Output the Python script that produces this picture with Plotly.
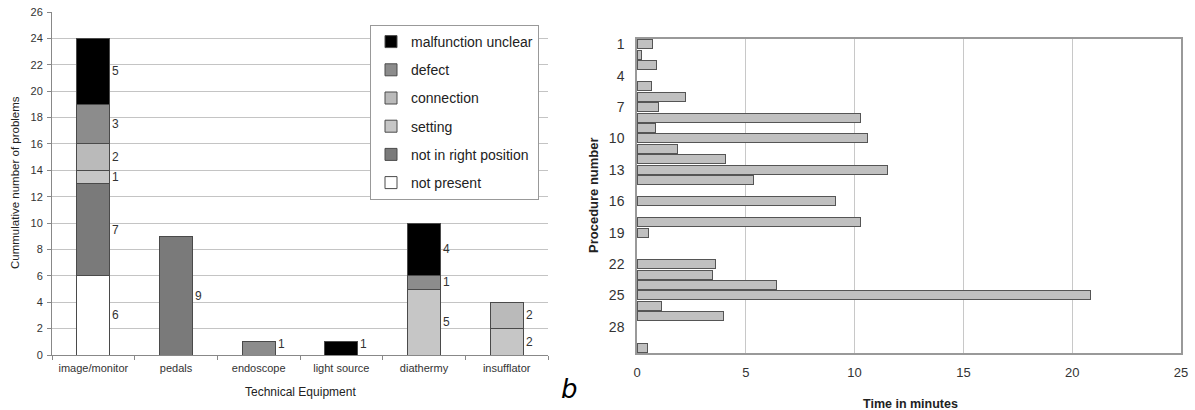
import plotly.graph_objects as go

# ---------------- data: left chart ----------------
categories = ["image/monitor", "pedals", "endoscope", "light source", "diathermy", "insufflator"]
series_names = ["not present", "not in right position", "setting", "connection", "defect", "malfunction unclear"]
not_present = [6, None, None, None, None, None]
not_in_right_position = [7, 9, None, None, None, None]
setting = [1, None, None, None, 5, 2]
connection = [2, None, None, None, None, 2]
defect = [3, None, 1, None, 1, None]
malfunction_unclear = [5, None, None, 1, 4, None]
left_y_ticks = list(range(0, 27, 2))

# ---------------- data: right chart ----------------
procedures = list(range(1, 31))
times_min = [0.73, 0.2, 0.9, None, 0.66, 2.23, 1.0, 10.29, 0.86, 10.6,
             1.85, 4.05, 11.5, 5.34, None, 9.14, None, 10.29, 0.54, None,
             None, 3.62, 3.46, 6.41, 20.84, 1.12, 3.98, None, None, 0.5]
proc_ticks = [1, 4, 7, 10, 13, 16, 19, 22, 25, 28]
time_ticks = [0, 5, 10, 15, 20, 25]

FONT = "Liberation Sans, Arial, sans-serif"
W, H = 1195, 410

series_values = [not_present, not_in_right_position, setting, connection, defect, malfunction_unclear]
series_colors = ["#ffffff", "#7a7a7a", "#c6c6c6", "#bababa", "#8c8c8c", "#000000"]

fig = go.Figure()
n_series = len(series_names)
for k, (name, vals, col) in enumerate(zip(series_names, series_values, series_colors)):
    fig.add_trace(go.Bar(
        x=categories, y=vals, name=name, legendgroup=name, legendrank=100 + (n_series - k),
        marker=dict(color=col, line=dict(color="#4a4a4a", width=1)),
        width=0.4, xaxis="x", yaxis="y", hoverinfo="skip"))

fig.add_trace(go.Bar(
    x=times_min, y=procedures, orientation="h", showlegend=False,
    marker=dict(color="#c0c0c0", line=dict(color="#555555", width=1)),
    width=0.86, xaxis="x2", yaxis="y2", hoverinfo="skip"))

# value labels beside segments
annotations = []
base = [0.0] * len(categories)
for vals in series_values:
    for i, v in enumerate(vals):
        if v is None:
            continue
        mid = base[i] + v / 2.0
        if v == 1 and base[i] == 0:
            mid = base[i] + 0.85
        annotations.append(dict(x=categories[i], y=mid, xref="x", yref="y",
                                text=str(v), showarrow=False, xanchor="left",
                                xshift=17, font=dict(family=FONT, size=12, color="#333333")))
        base[i] += v

def px_x(p):
    return p / W

def px_y(p):
    return 1 - p / H

def paper_text(text, x, y, size, family=FONT, angle=0, color="#222222"):
    return dict(text=text, x=px_x(x), y=px_y(y), xref="paper", yref="paper",
                xanchor="center", yanchor="middle", showarrow=False, textangle=angle,
                font=dict(family=family, size=size, color=color))

annotations += [
    paper_text("Cummulative number of problems", 15, 183, 11.5, angle=-90),
    paper_text("Technical Equipment", 300, 392, 12),
    paper_text("<i>b</i>", 569, 389, 26, family="DejaVu Sans, sans-serif", color="#000000"),
    paper_text("<b>Procedure number</b>", 593, 195, 13, angle=-90),
    paper_text("<b>Time in minutes</b>", 910, 404, 12.5),
]

fig.update_layout(
    width=W, height=H, margin=dict(l=0, r=0, t=0, b=0, autoexpand=False),
    paper_bgcolor="white", plot_bgcolor="white",
    barmode="stack",
    font=dict(family=FONT, color="#333333"),
    showlegend=True,
    legend=dict(x=px_x(370), y=px_y(25), xanchor="left", yanchor="top",
                traceorder="grouped", tracegroupgap=7, itemwidth=30,
                bgcolor="white", bordercolor="#999999", borderwidth=1,
                font=dict(family=FONT, size=14, color="#222222")),
    xaxis=dict(domain=[px_x(52), px_x(548)], anchor="y", type="category", automargin=False,
               showline=True, linecolor="#888888", linewidth=1,
               ticks="outside", tickson="boundaries", ticklen=4, tickcolor="#888888",
               ticklabelstandoff=3,
               showgrid=False, tickfont=dict(family=FONT, size=11, color="#333333")),
    yaxis=dict(domain=[1 - 355 / H, 1 - 12 / H], anchor="x", range=[0, 26], automargin=False,
               tickvals=left_y_ticks, showline=True, linecolor="#888888", linewidth=1,
               ticks="outside", ticklen=4, tickcolor="#888888", ticklabelstandoff=2,
               showgrid=True, gridcolor="#c4c4c4", gridwidth=1,
               zeroline=False, tickfont=dict(family=FONT, size=11, color="#333333")),
    xaxis2=dict(domain=[px_x(637), px_x(1181)], anchor="y2", range=[0, 25], automargin=False,
                tickvals=time_ticks, showline=True, mirror=True, linecolor="#999999", linewidth=1.5,
                showgrid=True, gridcolor="#c8c8c8", gridwidth=1, zeroline=False,
                ticks="", ticklabelstandoff=7,
                tickfont=dict(family=FONT, size=13, color="#333333")),
    yaxis2=dict(domain=[1 - 353 / H, 1 - 39 / H], anchor="x2", range=[30.5, 0.5], automargin=False,
                tickvals=proc_ticks, showline=True, mirror=True, linecolor="#999999", linewidth=1.5,
                showgrid=False, zeroline=False, ticks="", ticklabelstandoff=8,
                tickfont=dict(family=FONT, size=14, color="#333333")),
    annotations=annotations,
)

fig.write_html("out.html", config={"displayModeBar": False},
               post_script="document.body.style.margin='0';")
